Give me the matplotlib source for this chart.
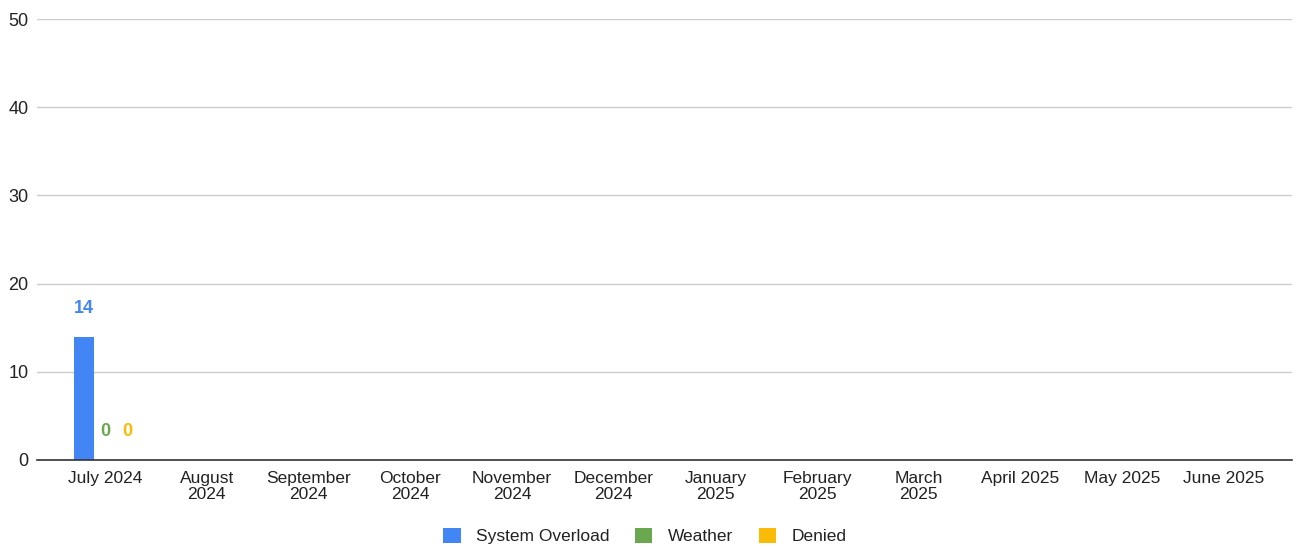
import numpy as np
import matplotlib
matplotlib.use("Agg")
import matplotlib.pyplot as plt

months = ["July 2024", "August\n2024", "September\n2024", "October\n2024", "November\n2024",
          "December\n2024", "January\n2025", "February\n2025", "March\n2025", "April 2025",
          "May 2025", "June 2025"]
series_names = ["System Overload", "Weather", "Denied"]
system_overload = [14] + [np.nan] * 11
weather = [0] + [np.nan] * 11
denied = [0] + [np.nan] * 11
colors = ["#4285F4", "#6AA84F", "#F9BB06"]
y_ticks = [0, 10, 20, 30, 40, 50]

plt.rcParams['font.family'] = ['Liberation Sans', 'DejaVu Sans']

fig = plt.figure(figsize=(12.98, 5.47), dpi=100)
ax = fig.add_axes([37/1298, 87/547, (1292-37)/1298, (460-19)/547])

x = np.arange(len(months))
width = 0.2
offsets = [-0.21, 0.0, 0.22]
for vals, name, col, off in zip([system_overload, weather, denied], series_names, colors, offsets):
    v = np.array(vals, dtype=float)
    ax.bar(x + off, v, width, color=col, label=name, zorder=3)
    for xi, vi in zip(x, v):
        if not np.isnan(vi):
            ax.annotate(f"{int(vi)}", (xi + off, vi), xytext=(0, 20.5), textcoords="offset points",
                        ha="center", va="center", color=col, fontsize=13, fontweight="bold")

ax.set_xlim(-0.67, 11.67)
ax.set_ylim(0, 50)
ax.set_yticks(y_ticks)
ax.set_xticks(x)
ax.set_xticklabels(months, fontsize=12.5, color="#222222", linespacing=1.1)
ax.tick_params(axis="y", labelsize=13, labelcolor="#222222", length=0, pad=6)
ax.tick_params(axis="x", length=0, pad=8)
ax.grid(axis="y", color="#cccccc", linewidth=1, zorder=0)
for s in ["top", "right", "left"]:
    ax.spines[s].set_visible(False)
ax.spines["bottom"].set_color("#333333")
ax.spines["bottom"].set_linewidth(1.2)
ax.spines["bottom"].set_zorder(4)

leg = fig.legend(loc="center", bbox_to_anchor=(645/1298, 1 - 536/547), ncol=3, frameon=False,
                 fontsize=12.5, handlelength=1.0, handleheight=1.0, columnspacing=1.45, handletextpad=0.9)
for t in leg.get_texts():
    t.set_color("#222222")

fig.savefig("out.png", dpi=100)
